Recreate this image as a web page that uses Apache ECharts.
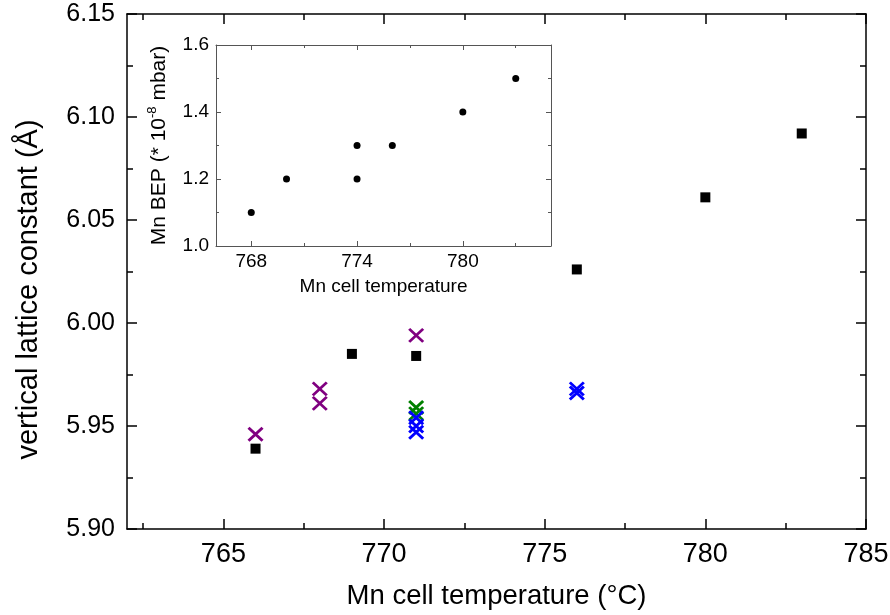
<!DOCTYPE html>
<html>
	<head>
		<meta charset="utf-8">
		<script src="https://cdn.jsdelivr.net/npm/echarts@6/dist/echarts.min.js"></script>
		<title>lattice constant vs Mn cell temperature</title>
	</head>
	<style>
		* {
			margin: 0;
			padding: 0;
		}
		#chart {
			width: 890px;
			height: 615px;
			background: #fff;
		}
	</style>
	<body>
		<div id="chart"></div>
	</body>
	<script type="text/javascript">
		// main plot: [temperature, lattice constant]
		var blackSquares = [[766, 5.939], [769, 5.985], [771, 5.984], [776, 6.026], [780, 6.061], [783, 6.092]];
		var purpleX = [[766, 5.946], [768, 5.968], [768, 5.961], [771, 5.994]];
		var greenX = [[771, 5.959], [771, 5.956]];
		var blueX = [[771, 5.954], [771, 5.950], [771, 5.947], [776, 5.968], [776, 5.966]];

		// inset: [temperature, BEP]
		var insetBEP = [[768, 1.1], [770, 1.2], [774, 1.3], [774, 1.2], [776, 1.3], [780, 1.4], [783, 1.5]];

		// tick positions of the temperature axes
		var mainXTicks = [765, 770, 775, 780, 785];
		var mainXMinor = [762.5, 767.5, 772.5, 777.5, 782.5];
		var insetXTicks = [768, 774, 780];
		var insetXMinor = [771, 777, 783];

		var font = "'Liberation Sans', Arial, sans-serif";
		var crossPath = 'path://M0,0L10,10M0,10L10,0';

		// one side of an axis box, ticks pointing inside
		var boxAxis = function(opt) {
			var ax = {
				type: 'value',
				gridIndex: opt.grid,
				position: opt.position,
				min: opt.min,
				max: opt.max,
				splitLine: { show: false },
				axisLine: { show: opt.line !== false, onZero: false, lineStyle: { color: opt.color, width: opt.lineWidth } },
				axisTick: { show: true, inside: true, length: opt.tick, lineStyle: { color: opt.color, width: opt.lineWidth } },
				axisLabel: { show: !!opt.label, color: '#000', fontFamily: font, fontSize: opt.fontSize, margin: opt.margin, formatter: opt.formatter }
			};
			if (opt.ticks) {
				ax.axisTick.customValues = opt.ticks;
				ax.axisLabel.customValues = opt.ticks;
			} else {
				ax.interval = opt.interval;
				ax.minorTick = { show: true, splitNumber: 2, length: opt.minor, lineStyle: { color: opt.color, width: opt.lineWidth } };
			}
			if (opt.name) {
				ax.name = opt.name;
				ax.nameLocation = 'middle';
				ax.nameGap = opt.nameGap;
				ax.nameTextStyle = { color: '#000', fontFamily: font, fontSize: opt.nameSize, rich: opt.rich, padding: opt.namePad || 0 };
			}
			return ax;
		}

		var mainX = { grid: 0, min: 762, max: 785, ticks: mainXTicks, color: '#000', lineWidth: 1.5, tick: 10, fontSize: 27, margin: 12 };
		var mainXm = { grid: 0, min: 762, max: 785, ticks: mainXMinor, color: '#000', lineWidth: 1.5, tick: 6, line: false };
		var mainY = { grid: 0, min: 5.90, max: 6.15, interval: 0.05, color: '#000', lineWidth: 1.5, tick: 10, minor: 6, fontSize: 25, margin: 12,
			formatter: function(v) { return v.toFixed(2); } };
		var insX = { grid: 1, min: 766, max: 785, ticks: insetXTicks, color: '#555', lineWidth: 1, tick: 5, fontSize: 19, margin: 6 };
		var insXm = { grid: 1, min: 766, max: 785, ticks: insetXMinor, color: '#555', lineWidth: 1, tick: 3, line: false };
		var insY = { grid: 1, min: 1.0, max: 1.6, interval: 0.2, color: '#555', lineWidth: 1, tick: 5, minor: 3, fontSize: 19, margin: 7,
			formatter: function(v) { return v.toFixed(1); } };

		var option = {
			backgroundColor: '#fff',
			animation: false,
			grid: [
				{ left: 127, top: 14, width: 739, height: 515, outerBoundsMode: 'none' },
				{ left: 216, top: 45, width: 335, height: 201, outerBoundsMode: 'none' }
			],
			xAxis: [
				boxAxis(Object.assign({}, mainX, { position: 'bottom', label: true, name: 'Mn cell temperature (°C)', nameGap: 53, nameSize: 27.5 })),
				boxAxis(Object.assign({}, mainX, { position: 'top' })),
				boxAxis(Object.assign({}, mainXm, { position: 'bottom' })),
				boxAxis(Object.assign({}, mainXm, { position: 'top' })),
				boxAxis(Object.assign({}, insX, { position: 'bottom', label: true, name: 'Mn cell temperature', nameGap: 31, nameSize: 19 })),
				boxAxis(Object.assign({}, insX, { position: 'top' })),
				boxAxis(Object.assign({}, insXm, { position: 'bottom' })),
				boxAxis(Object.assign({}, insXm, { position: 'top' }))
			],
			yAxis: [
				boxAxis(Object.assign({}, mainY, { position: 'left', label: true, name: 'vertical lattice constant (Å)', nameGap: 84, nameSize: 29,
					namePad: [0, 36, 0, 0] })),
				boxAxis(Object.assign({}, mainY, { position: 'right' })),
				boxAxis(Object.assign({}, insY, { position: 'left', label: true, name: '{t|Mn BEP (* 10}{s|-8}{t| mbar)}', nameGap: 44, nameSize: 21,
					rich: {
						t: { fontFamily: font, fontSize: 21, color: '#000', lineHeight: 26 },
						s: { fontFamily: font, fontSize: 13, color: '#000', verticalAlign: 'top', lineHeight: 11 }
					} })),
				boxAxis(Object.assign({}, insY, { position: 'right' }))
			],
			series: [
				{
					type: 'scatter',
					xAxisIndex: 0,
					yAxisIndex: 0,
					symbol: 'rect',
					symbolSize: 10,
					itemStyle: { color: '#000', opacity: 1 },
					data: blackSquares
				},
				{
					type: 'scatter',
					xAxisIndex: 0,
					yAxisIndex: 0,
					symbol: crossPath,
					symbolSize: [14, 13],
					itemStyle: { color: 'rgba(0,0,0,0)', borderColor: '#800080', borderWidth: 2.8, opacity: 1 },
					data: purpleX
				},
				{
					type: 'scatter',
					xAxisIndex: 0,
					yAxisIndex: 0,
					symbol: crossPath,
					symbolSize: [14, 13],
					itemStyle: { color: 'rgba(0,0,0,0)', borderColor: '#008000', borderWidth: 2.8, opacity: 1 },
					data: greenX
				},
				{
					type: 'scatter',
					xAxisIndex: 0,
					yAxisIndex: 0,
					symbol: crossPath,
					symbolSize: [14, 13],
					itemStyle: { color: 'rgba(0,0,0,0)', borderColor: '#0000ff', borderWidth: 2.8, opacity: 1 },
					data: blueX
				},
				{
					type: 'scatter',
					xAxisIndex: 4,
					yAxisIndex: 2,
					symbol: 'circle',
					symbolSize: 7,
					itemStyle: { color: '#000', opacity: 1 },
					data: insetBEP
				}
			]
		};
		var chart = echarts.init(document.querySelector('#chart'));
		chart.setOption(option);
	</script>
</html>
